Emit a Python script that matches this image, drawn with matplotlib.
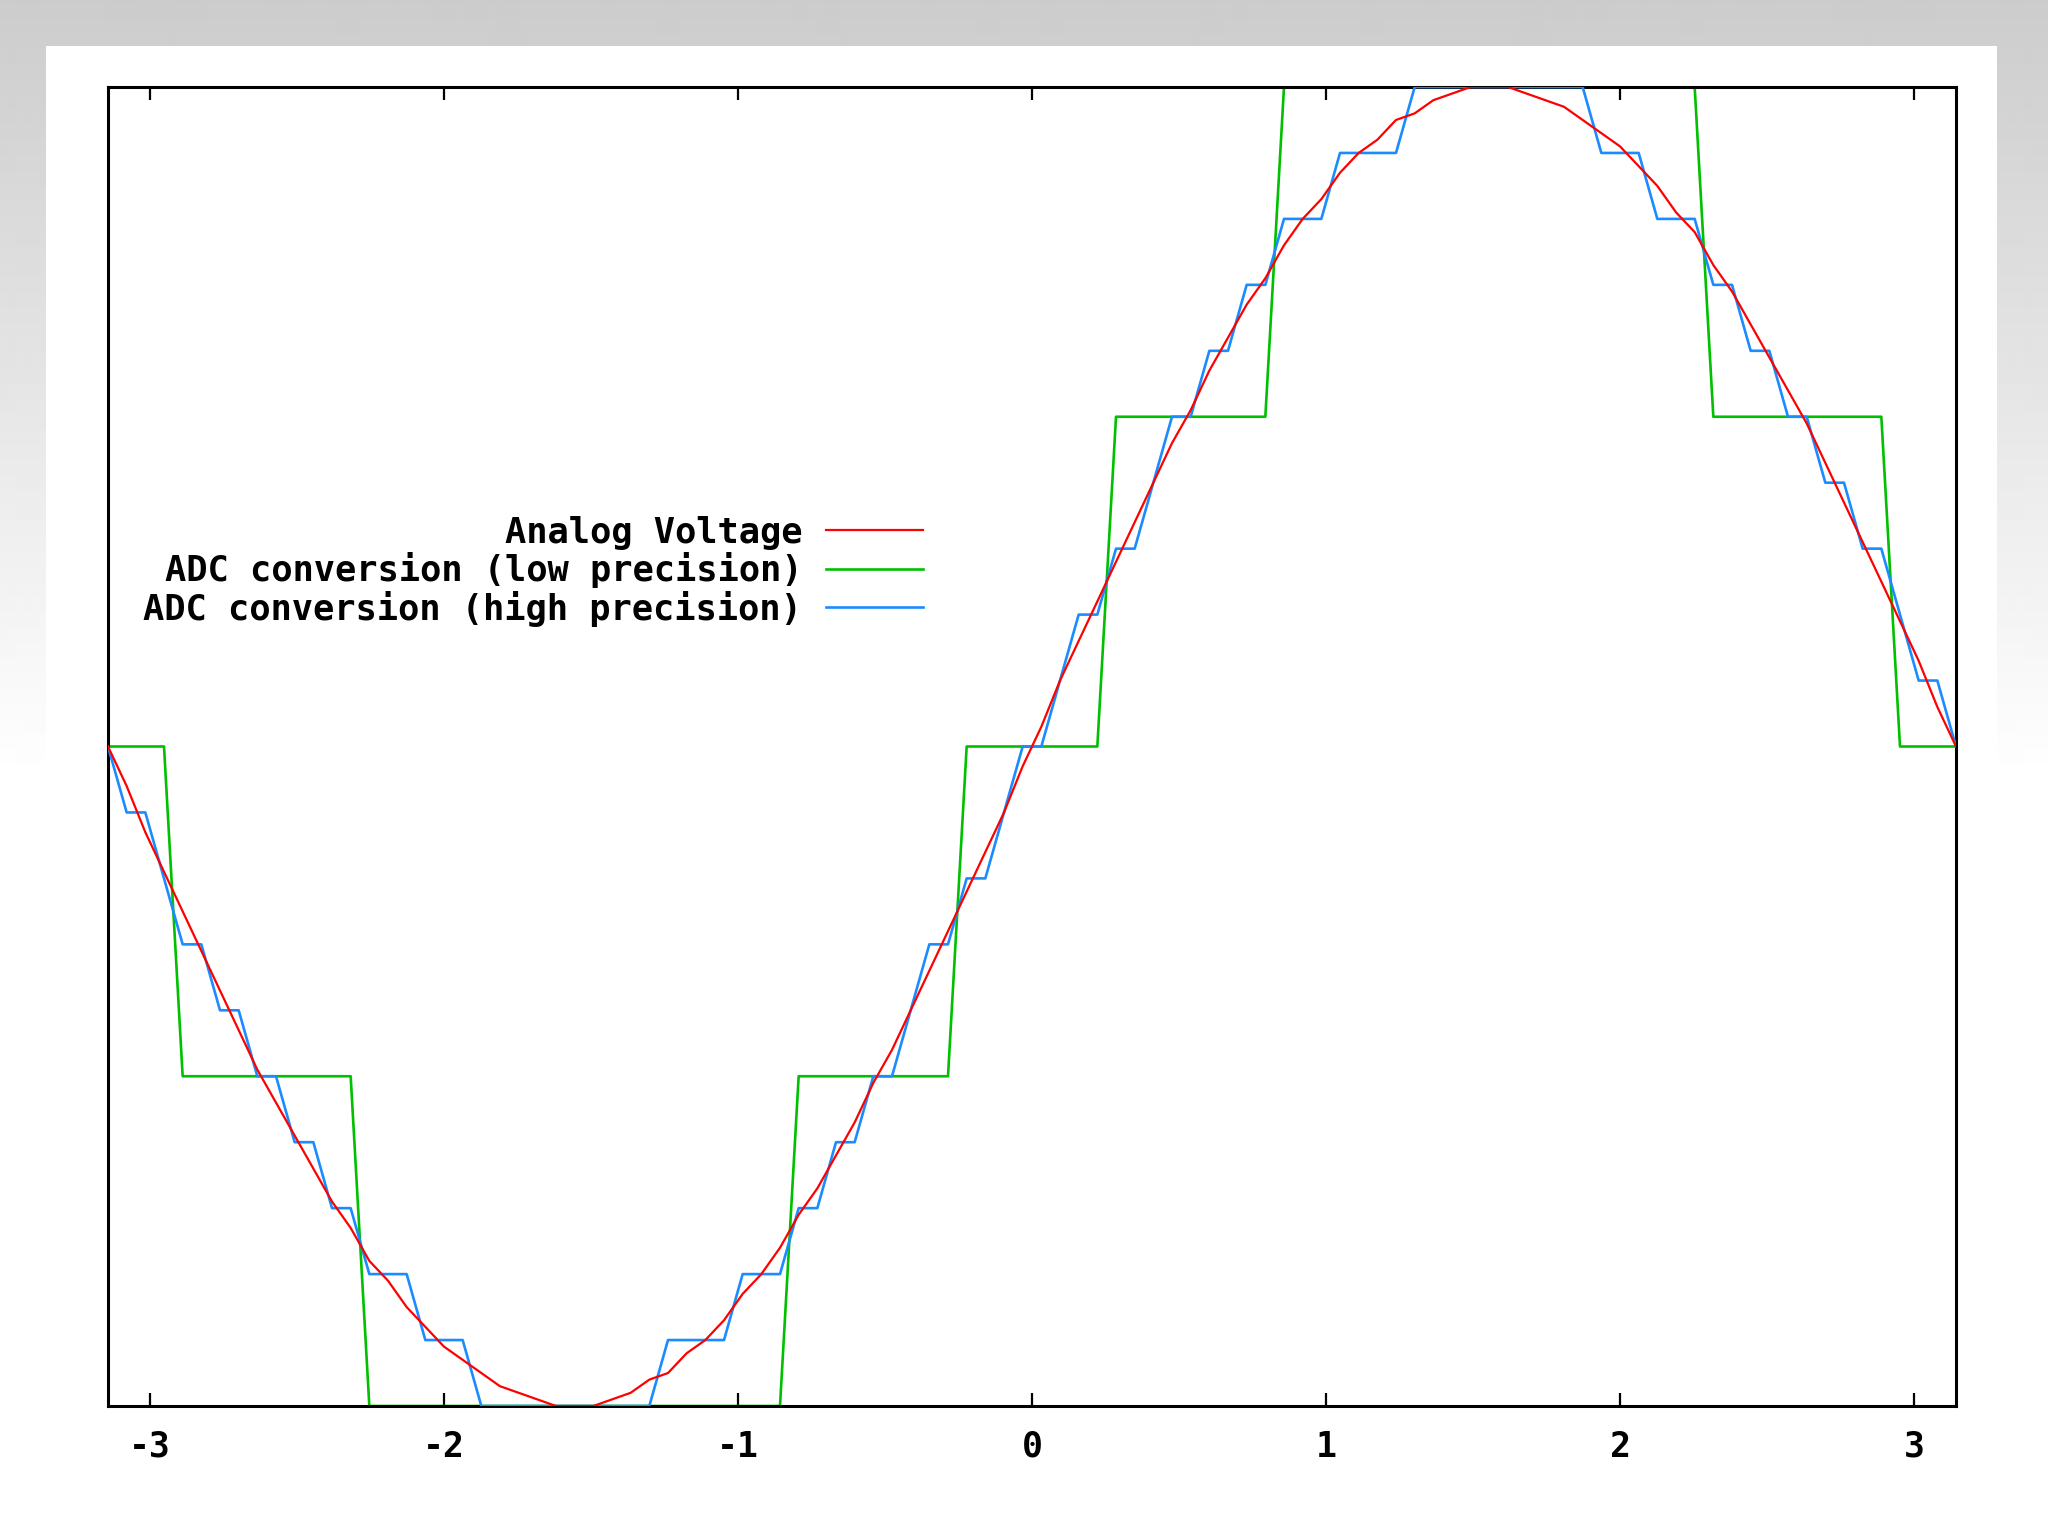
#%% load modules
import matplotlib
matplotlib.use('Agg')
import matplotlib.pyplot as plt
import numpy as np
from matplotlib.patches import Rectangle

#%% data (100 samples over -pi..pi)

n_samples = 100
x_min, x_max = -np.pi, np.pi

analog_voltage = [
    0.00, -0.06, -0.13, -0.19, -0.25, -0.31, -0.37, -0.43, -0.49, -0.54,
    -0.59, -0.64, -0.69, -0.73, -0.78, -0.81, -0.85, -0.88, -0.91, -0.93,
    -0.95, -0.97, -0.98, -0.99, -1.00, -1.00, -1.00, -0.99, -0.98, -0.96,
    -0.95, -0.92, -0.90, -0.87, -0.83, -0.80, -0.76, -0.71, -0.67, -0.62,
    -0.57, -0.51, -0.46, -0.40, -0.34, -0.28, -0.22, -0.16, -0.10, -0.03,
    0.03, 0.10, 0.16, 0.22, 0.28, 0.34, 0.40, 0.46, 0.51, 0.57,
    0.62, 0.67, 0.71, 0.76, 0.80, 0.83, 0.87, 0.90, 0.92, 0.95,
    0.96, 0.98, 0.99, 1.00, 1.00, 1.00, 0.99, 0.98, 0.97, 0.95,
    0.93, 0.91, 0.88, 0.85, 0.81, 0.78, 0.73, 0.69, 0.64, 0.59,
    0.54, 0.49, 0.43, 0.37, 0.31, 0.25, 0.19, 0.13, 0.06, 0.00]

# low precision ADC: levels and how many samples each level is held
low_levels = [0, -0.5, -1, -0.5, 0, 0.5, 1, 0.5, 0]
low_counts = [4, 10, 23, 9, 8, 9, 23, 10, 4]

# high precision ADC: same idea, 0.1 steps
high_levels = [0, -0.1, -0.2, -0.3, -0.4, -0.5, -0.6, -0.7, -0.8, -0.9, -1.0,
               -0.9, -0.8, -0.7, -0.6, -0.5, -0.4, -0.3, -0.2, -0.1,
               0, 0.1, 0.2, 0.3, 0.4, 0.5, 0.6, 0.7, 0.8, 0.9, 1.0,
               0.9, 0.8, 0.7, 0.6, 0.5, 0.4, 0.3, 0.2, 0.1, 0]
high_counts = [1, 2, 1, 2, 2, 2, 2, 2, 3, 3, 10,
               4, 3, 2, 2, 2, 1, 2, 2, 1,
               2, 1, 2, 2, 1, 2, 2, 2, 3, 4, 10,
               3, 3, 2, 2, 2, 2, 2, 1, 2, 1]

xticks = [-3, -2, -1, 0, 1, 2, 3]
labels = ['Analog Voltage', 'ADC conversion (low precision)',
          'ADC conversion (high precision)']

x = np.linspace(x_min, x_max, n_samples)
low = np.repeat(low_levels, low_counts)
high = np.repeat(high_levels, high_counts)

#%% figure
plt.rcParams['font.family'] = ['DejaVu Sans Mono', 'DejaVu Sans']
plt.rcParams['font.weight'] = 'bold'
plt.rcParams['axes.unicode_minus'] = False

W, H = 2048, 1535
fig = plt.figure(figsize=(W / 100, H / 100), dpi=100, facecolor='white')

# slide background: grey gradient with a white panel on top
bg = fig.add_axes([0, 0, 1, 1], zorder=-10)
shade = np.ones((H, 1))
fade = 780
shade[:fade, 0] = np.linspace(0.80, 1.0, fade)
bg.imshow(shade, cmap='gray', vmin=0, vmax=1, extent=(0, W, H, 0),
          aspect='auto', interpolation='bilinear')
bg.add_patch(Rectangle((46, 46), 1997 - 46, H - 46, facecolor='white', edgecolor='none'))
bg.set_xlim(0, W)
bg.set_ylim(H, 0)
bg.axis('off')

left, right, top, bottom = 108, 1956, 87, 1406
ax = fig.add_axes([left / W, 1 - bottom / H, (right - left) / W, (bottom - top) / H])
ax.set_facecolor('white')

ax.plot(x, analog_voltage, color='#ff0000', lw=1.6, label=labels[0], zorder=4)
ax.plot(x, low, color='#00c000', lw=1.9, label=labels[1], zorder=2)
ax.plot(x, high, color='#1a8cff', lw=1.9, label=labels[2], zorder=3)

ax.set_xlim(x_min, x_max)
ax.set_ylim(-1, 1)
ax.set_xticks(xticks)
ax.set_xticklabels([str(t) for t in xticks])
ax.set_yticks([])
ax.tick_params(axis='x', direction='in', top=True, bottom=True, length=9.5,
               width=1.6, labelsize=25, pad=17)
for s in ax.spines.values():
    s.set_linewidth(2.2)

handles, labs = ax.get_legend_handles_labels()
ax.legend(handles, labs, loc='center right', bbox_to_anchor=(0.441, 0.633),
          frameon=False, markerfirst=False, alignment='right',
          handlelength=2.75, handletextpad=0.66, labelspacing=0.07,
          borderpad=0, borderaxespad=0,
          prop={'size': 25.5, 'weight': 'bold', 'family': 'DejaVu Sans Mono'})

fig.savefig('out.png', dpi=100, facecolor='white')
